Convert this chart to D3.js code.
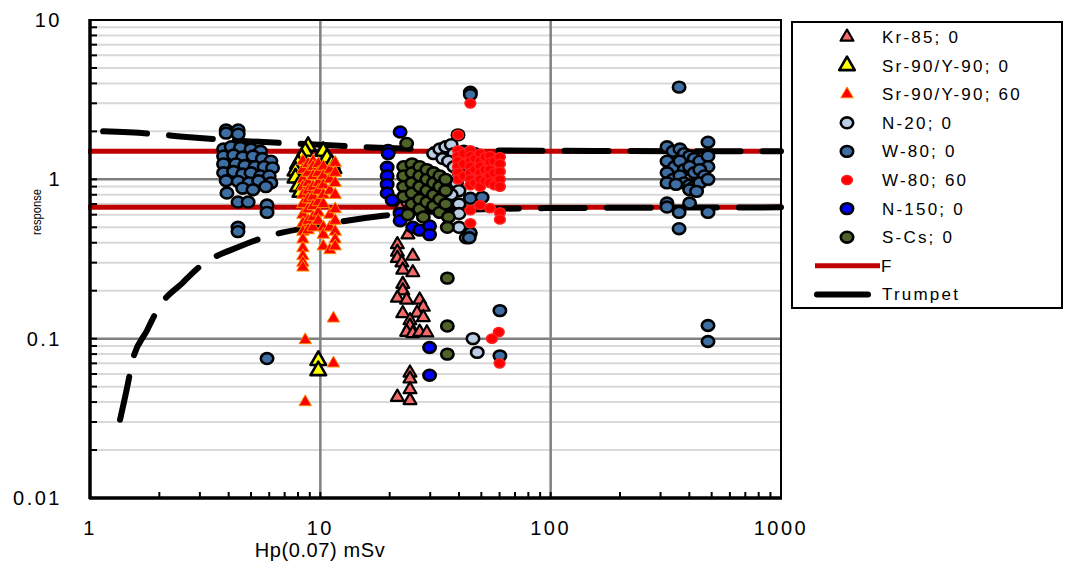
<!DOCTYPE html>
<html>
<head>
<meta charset="utf-8">
<script src="https://cdn.jsdelivr.net/npm/d3@7"></script>
<style>
  body { margin: 0; background: #fff; }
  svg { font-family: Arial, "Liberation Sans", sans-serif; }
</style>
</head>
<body>
<div id="chart"></div>
<script>
// values: [Hp(0.07) mSv, response]
var kr85 = [[22.2,0.66],[24,0.45],[21.6,0.39],[21.6,0.35],[21.6,0.32],[25.2,0.33],[22.6,0.3],[22.8,0.27],[25.2,0.26],
  [22.8,0.22],[22.8,0.2],[21.6,0.18],[23.7,0.175],[27,0.175],[28,0.158],[26.3,0.145],[28,0.136],[22.8,0.144],
  [24.5,0.13],[24.5,0.12],[23.7,0.11],[25.2,0.108],[27,0.11],[29,0.109],[24.5,0.061],[24.5,0.056],[24.5,0.048],
  [21.6,0.043],[24.5,0.041]];
var sr90_0 = [[8.85,1.61],[8.6,1.5],[8.3,1.36],[8.0,1.25],[7.8,1.13],[7.8,1.02],[8.0,0.9],[8.2,0.83],
  [10.3,1.5],[10.7,1.36],[11.2,1.25],[11.4,1.17],[9.8,0.073],[9.8,0.063]];
var sr90_60 = [[8.4,1.3],[8.4,1.15],[8.4,1.0],[8.4,0.9],[8.4,0.8],[8.4,0.7],[8.4,0.6],[8.4,0.53],[8.4,0.47],[8.4,0.42],
  [8.4,0.37],[8.4,0.33],[8.4,0.3],[8.4,0.28],[8.85,1.25],[8.85,1.1],[8.85,0.95],[8.85,0.85],[8.85,0.75],[8.85,0.65],
  [8.85,0.55],[8.85,0.48],[9.3,1.3],[9.3,1.2],[9.3,1.05],[9.3,0.9],[9.3,0.78],[9.3,0.68],[9.3,0.58],[9.3,0.5],
  [9.8,1.25],[9.8,1.1],[9.8,0.95],[9.8,0.85],[9.8,0.72],[9.8,0.62],[9.8,0.55],[10.3,1.2],[10.3,1.05],[10.3,0.92],
  [10.3,0.8],[10.3,0.7],[10.3,0.5],[10.3,0.45],[10.3,0.38],[11.0,1.15],[11.0,1.0],[11.0,0.85],[11.0,0.6],[11.0,0.5],
  [11.0,0.36],[11.6,1.27],[11.6,1.1],[11.6,0.95],[11.6,0.8],[11.6,0.65],[11.6,0.55],[11.6,0.47],[11.6,0.42],[11.6,0.38],
  [11.4,0.134],[8.6,0.098],[11.4,0.07],[8.6,0.04]];
var n20 = [[31,1.45],[33,1.55],[35,1.6],[37,1.65],[38,1.45],[34,1.35],[36,1.3],[38,1.2],[40,1.1],[39,0.95],[40,0.85],
  [37,0.8],[40,0.7],[40,0.61],[40,0.5],[43,0.43],[46,0.1],[48,0.082]];
var w80_0 = [[3.9,2.04],[4.4,2.04],[3.9,1.95],[4.4,1.92],
  [3.8,1.55],[4.1,1.6],[4.5,1.58],[5.0,1.55],[5.5,1.5],[3.8,1.4],[4.2,1.42],[4.6,1.38],[5.1,1.4],[5.6,1.35],[6.1,1.3],
  [3.8,1.25],[4.3,1.25],[4.7,1.22],[5.2,1.2],[5.7,1.2],[6.2,1.18],[3.8,1.1],[4.2,1.12],[4.6,1.08],[5.0,1.1],[5.5,1.05],
  [6.0,1.05],[3.9,0.98],[4.4,0.97],[4.9,0.95],[5.4,0.98],[6.1,0.95],[4.6,0.88],[5.1,0.86],[5.8,0.9],
  [3.93,0.82],[4.39,0.72],[4.86,0.72],[5.87,0.69],[5.87,0.62],[4.39,0.5],[4.39,0.47],[5.87,0.075],
  [44.8,3.52],[44.8,3.4],[39.6,1.9],[42,1.5],[52,1.3],[58,1.0],[44.8,0.76],[50.4,0.77],[44.8,0.46],[44.3,0.43],
  [60.2,0.15],[60.2,0.078],
  [361,3.79],[320,1.6],[340,1.5],[364,1.55],[380,1.45],[401,1.4],[420,1.35],[444,1.3],[482,1.71],[482,1.4],[482,1.2],
  [320,1.3],[345,1.2],[364,1.3],[380,1.15],[401,1.2],[420,1.1],[444,1.15],[465,1.05],[320,1.1],[340,1.0],[364,1.05],
  [380,0.95],[401,0.92],[420,0.9],[444,0.95],[482,1.0],[320,0.95],[350,0.93],[401,0.86],[430,0.84],
  [320,0.71],[320,0.67],[361,0.62],[401,0.71],[482,0.62],[361,0.49],[482,0.121],[482,0.096]];
var w80_60 = [[44.8,3.0],[39.6,1.9],[39.6,1.52],[39.6,1.4],[39.6,1.3],[39.6,1.2],[39.6,1.1],[39.6,1.0],
  [42,1.45],[42,1.25],[42,1.05],[44.8,1.52],[44.8,1.4],[44.8,1.3],[44.8,1.2],[44.8,1.1],[44.8,1.0],[44.8,0.92],
  [47,1.35],[47,1.15],[47,0.95],[49.4,1.45],[49.4,1.3],[49.4,1.2],[49.4,1.1],[49.4,1.0],[49.4,0.9],
  [52,1.38],[52,1.15],[52,0.98],[54.5,1.4],[54.5,1.28],[54.5,1.15],[54.5,1.05],[54.5,0.95],
  [57,1.3],[57,1.1],[57,0.92],[60.2,1.38],[60.2,1.25],[60.2,1.12],[60.2,1.0],[60.2,0.9],
  [49.4,0.69],[54.5,0.66],[60.2,0.62],[60.2,0.56],[44.8,0.64],[44.8,0.53],
  [59.5,0.11],[55.6,0.1],[60,0.07]];
var n150 = [[22.2,1.98],[19.7,1.52],[19.7,1.45],[19.5,1.19],[19.5,1.05],[19.5,0.93],[19.5,0.82],[20.5,0.74],
  [22.2,0.61],[22.2,0.55],[25.2,0.5],[27,0.48],[29.8,0.51],[29.8,0.45],[29.8,0.088],[29.8,0.059]];
var sCs = [[23.7,1.68],[23,1.2],[23,1.05],[23,0.9],[23,0.78],[25,1.25],[25,1.1],[25,0.95],[25,0.82],[25,0.7],
  [27,1.2],[27,1.05],[27,0.9],[27,0.75],[27,0.65],[29,1.15],[29,1.0],[29,0.85],[29,0.72],[31,1.1],[31,0.95],
  [31,0.8],[31,0.68],[33,1.05],[33,0.9],[33,0.75],[33,0.62],[35,1.0],[35,0.85],[35,0.7],[36,0.58],[24,0.6],
  [28,0.58],[35.6,0.5],[35.6,0.24],[35.6,0.12],[35.6,0.08]];
var fLimits = [1.5, 0.667];
var trumpetUpper = [[1.14,2.0],[1.95,1.92],[2.46,1.86],[4.97,1.73],[9.0,1.66],[18,1.58],[40,1.53],[100,1.51],[1000,1.5]];
var trumpetLower = [[1.35,0.031],[1.46,0.052],[1.52,0.07],[1.77,0.113],[2.0,0.159],[2.53,0.225],[3.0,0.284],
  [4.49,0.38],[5.63,0.43],[9.3,0.505],[18.7,0.59],[40,0.64],[100,0.66],[1000,0.667]];
var xTicks = [1, 10, 100, 1000];
var yTicks = [0.01, 0.1, 1, 10];
var seriesNames = ["Kr-85; 0","Sr-90/Y-90; 0","Sr-90/Y-90; 60","N-20; 0","W-80; 0","W-80; 60","N-150; 0","S-Cs; 0"];

var W = 1065, H = 563;
var svg = d3.select("#chart").append("svg").attr("width", W).attr("height", H);

var x = d3.scaleLog().domain([1, 1000]).range([90, 781]);
var y = d3.scaleLog().domain([0.01, 10]).range([498, 20]);

// minor values for grid and ticks
var minorY = [], minorX = [];
[0.01, 0.1, 1].forEach(function(b){ for (var k = 2; k <= 9; k++) minorY.push(b*k); });
[1, 10, 100].forEach(function(b){ for (var k = 2; k <= 9; k++) minorX.push(b*k); });

var grid = svg.append("g");
grid.selectAll(".mg").data(minorY).enter().append("line")
  .attr("x1", 90).attr("x2", 781)
  .attr("y1", function(d){return y(d);}).attr("y2", function(d){return y(d);})
  .style("stroke", "#d9d9d9").style("stroke-width", 2);
grid.selectAll(".gy").data([0.1, 1]).enter().append("line")
  .attr("x1", 90).attr("x2", 781)
  .attr("y1", function(d){return y(d);}).attr("y2", function(d){return y(d);})
  .style("stroke", "#808080").style("stroke-width", 2.5);
grid.selectAll(".gx").data([10, 100]).enter().append("line")
  .attr("y1", 20).attr("y2", 498)
  .attr("x1", function(d){return x(d);}).attr("x2", function(d){return x(d);})
  .style("stroke", "#808080").style("stroke-width", 2.5);

// F limits and trumpet
svg.selectAll(".f").data(fLimits).enter().append("line")
  .attr("x1", 88).attr("x2", 781)
  .attr("y1", function(d){return y(d);}).attr("y2", function(d){return y(d);})
  .style("stroke", "#c00000").style("stroke-width", 5);

var line = d3.line().x(function(d){return x(d[0]);}).y(function(d){return y(d[1]);}).curve(d3.curveMonotoneX);
[trumpetUpper, trumpetLower].forEach(function(t){
  svg.append("path").attr("d", line(t))
    .style("fill", "none").style("stroke", "#000").style("stroke-width", 6)
    .style("stroke-linecap", "round").style("stroke-dasharray", "44,22");
});

// series markers
var tri = d3.symbol().type(d3.symbolTriangle);
var styles = [
  {data: kr85, shape: "tri", size: 72, fill: "#f46a6a", stroke: "#000", sw: 2.2},
  {data: sr90_0, shape: "tri", size: 105, fill: "#ffff00", stroke: "#000", sw: 2.6},
  {data: sr90_60, shape: "tri", size: 68, fill: "#ff0000", stroke: "#ff8c00", sw: 1},
  {data: n20, shape: "circ", r: 5.4, fill: "#b9cde5", stroke: "#000", sw: 2.6},
  {data: w80_0, shape: "circ", r: 5.4, fill: "#3f6ea3", stroke: "#000", sw: 2.6},
  {data: w80_60, shape: "circ", r: 4.6, fill: "#ff0000", stroke: "#ff2020", sw: 1.5},
  {data: n150, shape: "circ", r: 5.4, fill: "#0000ff", stroke: "#000", sw: 2.6},
  {data: sCs, shape: "circ", r: 5.4, fill: "#4f6228", stroke: "#000", sw: 2.6}
];

function drawMarker(sel, s) {
  if (s.shape == "tri") {
    sel.append("path").attr("d", tri.size(s.size)())
      .style("fill", s.fill).style("stroke", s.stroke).style("stroke-width", s.sw).style("stroke-linejoin", "round");
  } else {
    sel.append("ellipse").attr("rx", s.r + 0.8).attr("ry", s.r)
      .style("fill", s.fill).style("stroke", s.stroke).style("stroke-width", s.sw);
  }
}

styles.forEach(function(s){
  var g = svg.append("g");
  g.selectAll("g").data(s.data).enter().append("g")
    .attr("transform", function(d){return "translate(" + x(d[0]) + "," + y(d[1]) + ")";})
    .each(function(){ drawMarker(d3.select(this), s); });
});

// axes frame
svg.append("rect").attr("x", 90).attr("y", 20).attr("width", 691).attr("height", 478)
  .style("fill", "none").style("stroke", "#000").style("stroke-width", 2);
svg.append("line").attr("x1", 90).attr("x2", 90).attr("y1", 19).attr("y2", 499)
  .style("stroke", "#000").style("stroke-width", 3.5);
svg.append("line").attr("x1", 89).attr("x2", 782).attr("y1", 498).attr("y2", 498)
  .style("stroke", "#000").style("stroke-width", 3.5);

svg.selectAll(".ty").data(minorY.concat(yTicks)).enter().append("line")
  .attr("x1", 90).attr("x2", 97)
  .attr("y1", function(d){return y(d);}).attr("y2", function(d){return y(d);})
  .style("stroke", "#000").style("stroke-width", 2);
svg.selectAll(".tx").data(minorX.concat(xTicks)).enter().append("line")
  .attr("y1", 498).attr("y2", 492)
  .attr("x1", function(d){return x(d);}).attr("x2", function(d){return x(d);})
  .style("stroke", "#000").style("stroke-width", 2);

// tick labels
var fmt = function(d){ return d >= 1 ? String(d) : String(+d.toFixed(2)); };
svg.selectAll(".ly").data(yTicks).enter().append("text")
  .attr("x", 62).attr("y", function(d){return y(d);}).attr("dy", "0.35em")
  .attr("text-anchor", "end").style("font-size", "20px").style("letter-spacing", "2.5px")
  .text(fmt);
svg.selectAll(".lx").data(xTicks).enter().append("text")
  .attr("x", function(d){return x(d);}).attr("y", 535)
  .attr("text-anchor", "middle").style("font-size", "20px").style("letter-spacing", "2.5px")
  .text(fmt);

svg.append("text").attr("x", 320).attr("y", 557).attr("text-anchor", "middle")
  .style("font-size", "20px").style("letter-spacing", "0.6px").text("Hp(0.07) mSv");
svg.append("text").attr("transform", "translate(36,212) rotate(-90)")
  .attr("text-anchor", "middle").attr("dy", "0.35em")
  .attr("textLength", 46).attr("lengthAdjust", "spacingAndGlyphs")
  .style("font-size", "13px").text("response");

// legend
var lg = svg.append("g");
lg.append("rect").attr("x", 792).attr("y", 22).attr("width", 270).attr("height", 286)
  .style("fill", "#fff").style("stroke", "#000").style("stroke-width", 2);
var rowY = function(i){ return 37 + i * 28.6; };
styles.forEach(function(s, i){
  var g = lg.append("g").attr("transform", "translate(847," + rowY(i) + ")");
  drawMarker(g, s);
  lg.append("text").attr("x", 882).attr("y", rowY(i)).attr("dy", "0.35em")
    .style("font-size", "17px").style("letter-spacing", "2.2px").text(seriesNames[i]);
});
lg.append("line").attr("x1", 815).attr("x2", 880).attr("y1", rowY(8)).attr("y2", rowY(8))
  .style("stroke", "#c00000").style("stroke-width", 5);
lg.append("text").attr("x", 881).attr("y", rowY(8)).attr("dy", "0.35em")
  .style("font-size", "17px").style("letter-spacing", "2.2px").text("F");
lg.append("line").attr("x1", 817).attr("x2", 868).attr("y1", rowY(9)).attr("y2", rowY(9))
  .style("stroke", "#000").style("stroke-width", 6).style("stroke-linecap", "round");
lg.append("text").attr("x", 882).attr("y", rowY(9)).attr("dy", "0.35em")
  .style("font-size", "17px").style("letter-spacing", "2.2px").text("Trumpet");
</script>
</body>
</html>
